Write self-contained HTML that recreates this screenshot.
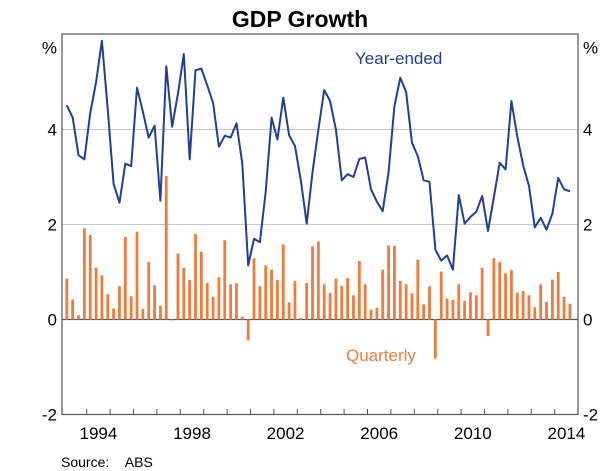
<!DOCTYPE html>
<html><head><meta charset="utf-8"><style>
body{margin:0;background:#fff;}
svg{display:block;font-family:"Liberation Sans",Arial,sans-serif;}
</style></head><body>
<svg id="chart" width="600" height="471">
<text x="300" y="27" text-anchor="middle" font-size="23" font-weight="bold" fill="#000">GDP Growth</text>
<g id="grid"></g><g id="bars"></g><g id="line"></g>
<rect x="62" y="34" width="516" height="380.5" fill="none" stroke="#555" stroke-width="1.2"/>
<g id="axes"></g>
<text x="355" y="64" font-size="17" fill="#1f3f99">Year-ended</text>
<text x="346" y="361" font-size="17" fill="#f47a3a">Quarterly</text>
<text x="61" y="467" font-size="14" fill="#000">Source:&#160;&#160;&#160;&#160;ABS</text>
</svg>
<script>
const quarterly=[0.86,0.42,0.09,1.92,1.78,1.09,0.93,0.53,0.23,0.70,1.74,0.49,1.85,0.22,1.21,0.72,0.29,3.02,-0.01,1.39,1.09,0.83,1.80,1.43,0.77,0.48,0.89,1.67,0.74,0.76,0.06,-0.44,1.29,0.70,1.14,1.05,0.83,1.58,0.36,0.81,0.03,0.77,1.54,1.64,0.74,0.56,0.86,0.71,0.87,0.51,1.23,0.74,0.21,0.25,1.05,1.56,1.55,0.81,0.74,0.55,1.26,0.32,0.70,-0.82,1.01,0.44,0.41,0.74,0.39,0.57,0.51,1.09,-0.35,1.29,1.21,0.97,1.04,0.56,0.60,0.51,0.26,0.74,0.37,0.84,1.00,0.48,0.33];
const yearEnded=[4.51,4.25,3.46,3.37,4.34,5.0,5.87,4.41,2.85,2.46,3.28,3.23,4.88,4.37,3.83,4.08,2.5,5.33,4.06,4.76,5.59,3.37,5.25,5.28,4.93,4.56,3.64,3.87,3.83,4.13,3.28,1.14,1.70,1.63,2.69,4.25,3.79,4.67,3.88,3.65,2.93,2.02,3.1,4.0,4.83,4.60,4.0,2.93,3.06,3.0,3.38,3.41,2.74,2.48,2.28,3.11,4.49,5.09,4.79,3.72,3.44,2.93,2.90,1.47,1.24,1.35,1.05,2.62,2.02,2.16,2.27,2.60,1.86,2.58,3.30,3.16,4.60,3.85,3.25,2.81,1.94,2.14,1.89,2.23,2.98,2.74,2.70];
const yTicks=[4,2,0,-2];
const xYears=[1994,1998,2002,2006,2010,2014];
const startYear=1993.15;
const NS="http://www.w3.org/2000/svg";
function X(t){return 63.3+(t-1993)*23.4;}
function Y(v){return 319.5-v*47.5;}
function mk(tag,attrs,parent){const e=document.createElementNS(NS,tag);for(const k in attrs)e.setAttribute(k,attrs[k]);parent.appendChild(e);return e;}
const grid=document.getElementById('grid'),bars=document.getElementById('bars'),line=document.getElementById('line'),axes=document.getElementById('axes');
yTicks.forEach(v=>{
 if(v>-2&&v!==0){const g=mk('line',{x1:62,x2:578,y1:Y(v),y2:Y(v),stroke:'#c8c8c8','stroke-width':1},grid);
 
 }
 const l=mk('text',{x:57,y:Y(v)+6,'text-anchor':'end','font-size':17},axes);l.textContent=v;
 
 
 const r=mk('text',{x:583,y:Y(v)+6,'font-size':17},axes);r.textContent=v;
 
 
});
['left','right'].forEach((s,i)=>{const p=mk('text',{x:i?583:57,y:Y(6)+19,'text-anchor':i?'start':'end','font-size':17},axes);p.textContent='%';
 
 });
const z=mk('line',{x1:62,x2:578,y1:Y(0),y2:Y(0),stroke:'#555','stroke-width':1.2},grid);


for(let y=1994;y<=2014;y++){const t=mk('line',{x1:X(y),x2:X(y),y1:414.5,y2:409,stroke:'#555','stroke-width':1},axes);
 
 }
xYears.forEach(y=>{const t=mk('text',{x:X(y+0.5),y:439,'text-anchor':'middle','font-size':17},axes);t.textContent=y;
 
 });
quarterly.forEach((v,i)=>{const x=X(startYear+i/4);const y0=Y(0),y1=Y(v);
 const b=mk('rect',{x:x-1.4,y:Math.min(y0,y1),width:2.8,height:Math.max(0.8,Math.abs(y1-y0)),fill:'#f47a3a'},bars);
 
 });
const pts=yearEnded.map((v,i)=>X(startYear+i/4).toFixed(1)+','+Y(v).toFixed(1)).join(' ');
const pl=mk('polyline',{points:pts,fill:'none',stroke:'#1f3f99','stroke-width':2,'stroke-linejoin':'round'},line);


</script>
</body></html>
